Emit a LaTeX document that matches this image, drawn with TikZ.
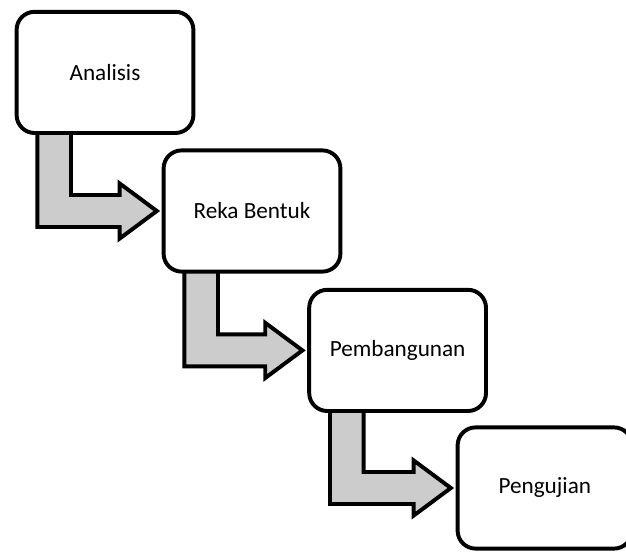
\documentclass[tikz,border=0pt]{standalone}
\usepackage{fontspec}
\setmainfont{Carlito}
\usepackage{tikz}
\usetikzlibrary{calc,positioning}
\usepackage{xcolor}
\pgfdeclarelayer{edgelayer}
\pgfsetlayers{edgelayer,main}
\definecolor{arrowgray}{RGB}{204,204,204}
\tikzset{
stage/.style={draw,line width=2.8pt,rounded corners=0.45cm,fill=white,
  minimum width=4.42cm,minimum height=3.03cm,font=\fontsize{16.5pt}{20pt}\selectfont},
bentarrow/.style={draw,line width=2.8pt,fill=arrowgray,line join=miter}
}

\begin{document}
\begin{tikzpicture}
\useasboundingbox (0,0) rectangle (15.65,-13.8);
\clip (0,0) rectangle (15.65,-13.8);
\node[stage] (A) at (2.625,-1.81) {Analisis};
\node[stage] (B) at (6.3,-5.275) {Reka Bentuk};
\node[stage] (C) at (9.94,-8.76) {Pembangunan};
\node[stage,minimum width=4.36cm] (D) at (13.62,-12.2) {Pengujian};
\begin{pgfonlayer}{edgelayer}
\draw[bentarrow] let \p1=(A.south), \p2=(B.west) in
 (\x1-1.69cm,\y1+0.3cm) -- (\x1-0.85cm,\y1+0.3cm) -- (\x1-0.85cm,\y2+0.4cm)
 -- (\x2-1.05cm,\y2+0.4cm) -- (\x2-1.05cm,\y2+0.69cm) -- (\x2-0.12cm,\y2)
 -- (\x2-1.05cm,\y2-0.69cm) -- (\x2-1.05cm,\y2-0.4cm) -- (\x1-1.69cm,\y2-0.4cm) -- cycle;
\draw[bentarrow] let \p1=(B.south), \p2=(C.west) in
 (\x1-1.69cm,\y1+0.3cm) -- (\x1-0.85cm,\y1+0.3cm) -- (\x1-0.85cm,\y2+0.4cm)
 -- (\x2-1.05cm,\y2+0.4cm) -- (\x2-1.05cm,\y2+0.69cm) -- (\x2-0.12cm,\y2)
 -- (\x2-1.05cm,\y2-0.69cm) -- (\x2-1.05cm,\y2-0.4cm) -- (\x1-1.69cm,\y2-0.4cm) -- cycle;
\draw[bentarrow] let \p1=(C.south), \p2=(D.west) in
 (\x1-1.69cm,\y1+0.3cm) -- (\x1-0.85cm,\y1+0.3cm) -- (\x1-0.85cm,\y2+0.4cm)
 -- (\x2-1.05cm,\y2+0.4cm) -- (\x2-1.05cm,\y2+0.69cm) -- (\x2-0.12cm,\y2)
 -- (\x2-1.05cm,\y2-0.69cm) -- (\x2-1.05cm,\y2-0.4cm) -- (\x1-1.69cm,\y2-0.4cm) -- cycle;
\end{pgfonlayer}
\end{tikzpicture}
\end{document}
